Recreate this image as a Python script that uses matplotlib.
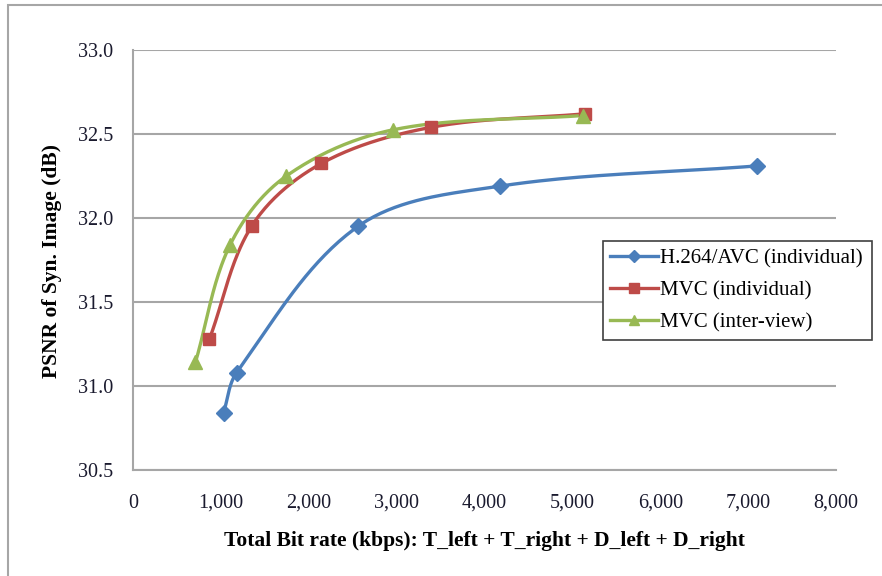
import matplotlib
matplotlib.use("Agg")
import matplotlib.pyplot as plt
from matplotlib.patches import Rectangle
from matplotlib.ticker import FuncFormatter
import numpy as np

plt.rcParams['font.family'] = ['Liberation Serif', 'DejaVu Serif']

# data
h264_rate = [1030, 1180, 2560, 4180, 7100]
h264_psnr = [30.84, 31.08, 31.95, 32.19, 32.31]
mvc_ind_rate = [870, 1355, 2145, 3395, 5140]
mvc_ind_psnr = [31.28, 31.955, 32.325, 32.54, 32.62]
mvc_iv_rate = [710, 1105, 1745, 2960, 5120]
mvc_iv_psnr = [31.14, 31.84, 32.25, 32.525, 32.61]

labels = ["H.264/AVC (individual)", "MVC (individual)", "MVC (inter-view)"]
colors = ['#4a7ebb', '#be4b48', '#98b954']
markers = ['D', 's', '^']
msizes = [8, 9, 10]

xlim = (0, 8000)
ylim = (30.5, 33.0)


def unit(v):
    n = np.hypot(v[0], v[1])
    return v / n if n > 0 else v


def smooth(xs, ys, wpx, hpx, n=40):
    # smoothed line through the points, bezier segments built in screen space
    px = (np.array(xs, float) - xlim[0]) / (xlim[1] - xlim[0]) * wpx
    py = (np.array(ys, float) - ylim[0]) / (ylim[1] - ylim[0]) * hpx
    P = np.column_stack([px, py])
    P = np.vstack([P[0], P, P[-1]])
    out = []
    t = np.linspace(0, 1, n)[:, None]
    for i in range(1, len(P) - 2):
        p0, p1, p2, p3 = P[i - 1], P[i], P[i + 1], P[i + 2]
        L = np.hypot(*(p2 - p1))
        c1 = p1 + unit(p2 - p0) * L / 3
        c2 = p2 - unit(p3 - p1) * L / 3
        seg = ((1 - t) ** 3) * p1 + 3 * ((1 - t) ** 2) * t * c1 + 3 * (1 - t) * t ** 2 * c2 + t ** 3 * p2
        out.append(seg)
    out = np.vstack(out)
    sx = out[:, 0] / wpx * (xlim[1] - xlim[0]) + xlim[0]
    sy = out[:, 1] / hpx * (ylim[1] - ylim[0]) + ylim[0]
    return sx, sy


def draw():
    fig = plt.figure(figsize=(8.82, 5.76), dpi=100)
    W, H = 882, 576
    ax = fig.add_axes([133 / W, 1 - 470 / H, (836 - 133) / W, 420 / H])

    # outer chart frame (cropped on the right/bottom)
    fig.patches.append(Rectangle((7.5 / W, -0.1), 1.2, 1 - 4.5 / H + 0.1, transform=fig.transFigure,
                                 fill=False, edgecolor='#a6a6a6', linewidth=1.5))

    series = [(h264_rate, h264_psnr), (mvc_ind_rate, mvc_ind_psnr), (mvc_iv_rate, mvc_iv_psnr)]
    handles = []
    for i, (xs, ys) in enumerate(series):
        sx, sy = smooth(xs, ys, 703, 420)
        ax.plot(sx, sy, color=colors[i], linewidth=2.4, solid_capstyle='round', zorder=3)
        ax.plot(xs, ys, linestyle='none', marker=markers[i], markersize=msizes[i],
                color=colors[i], zorder=4)
        h, = ax.plot([], [], color=colors[i], linewidth=2.4, marker=markers[i],
                     markersize=msizes[i] * 0.75)
        handles.append(h)

    ax.set_xlim(*xlim)
    ax.set_ylim(*ylim)
    ax.set_xticks(np.arange(0, 8001, 1000))
    ax.set_yticks(np.arange(30.5, 33.01, 0.5))
    ax.xaxis.set_major_formatter(FuncFormatter(lambda v, p: '{:,.0f}'.format(v)))
    ax.yaxis.set_major_formatter(FuncFormatter(lambda v, p: '{:.1f}'.format(v)))
    ax.tick_params(length=0, labelsize=14.5, colors='#1a1a2e')
    ax.tick_params(axis='x', pad=17)
    ax.tick_params(axis='y', pad=14)
    ax.grid(axis='y', color='#a6a6a6', linewidth=1.5)
    ax.set_axisbelow(True)
    for s in ['top', 'right']:
        ax.spines[s].set_visible(False)
    for s in ['left', 'bottom']:
        ax.spines[s].set_color('#a6a6a6')
        ax.spines[s].set_linewidth(1.5)

    fig.text(484 / W, 1 - 541 / H, "Total Bit rate (kbps): T_left + T_right + D_left + D_right",
             ha='center', va='center', fontsize=15.5, fontweight='bold')
    fig.text(52 / W, 1 - 261 / H, "PSNR of Syn. Image (dB)", ha='center', va='center',
             rotation=90, fontsize=15.5, fontweight='bold')

    leg = fig.legend(handles, labels, loc='upper left',
                     bbox_to_anchor=(603 / W, 1 - 364 / H, (872 - 603) / W, 122.5 / H),
                     mode='expand', fontsize=15, frameon=True, fancybox=False, framealpha=1,
                     handlelength=2.3, handletextpad=0.1, borderpad=0.35, labelspacing=0.6,
                     borderaxespad=0)
    leg.get_frame().set_edgecolor('#404040')
    leg.get_frame().set_linewidth(1.2)

    fig.savefig("out.png", dpi=100)


if __name__ == "__main__":
    draw()
